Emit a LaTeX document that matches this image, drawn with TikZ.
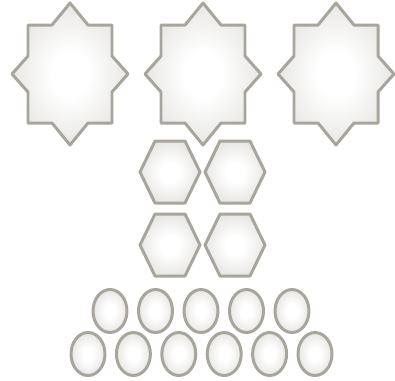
\documentclass[tikz,border=0pt]{standalone}
\usepackage{tikz}
\usetikzlibrary{shapes.geometric}
\definecolor{tileedge}{RGB}{168,165,156}
\definecolor{tilefill}{RGB}{198,196,190}
\pgfdeclareradialshading{tileshade}{\pgfpointorigin}{color(0bp)=(white); color(8bp)=(white); color(50bp)=(tilefill)}
\tikzset{
    tile/.style={draw=tileedge, line width=1.7pt, line join=round,
                 shade, shading=tileshade}
}

\begin{document}
\begin{tikzpicture}[
    x=0.02cm,
    y=-0.02cm
]
\useasboundingbox (0,0) rectangle (395,380);

% === STARS (top row) ===
\foreach \cx in {70,203,336} {
    \begin{scope}[shift={(\cx,74)}]
    \path[tile] (0,-71) -- (18,-49) -- (42,-49) -- (42,-18) -- (58,0)
        -- (42,18) -- (42,49) -- (18,49) -- (0,71) -- (-18,49)
        -- (-42,49) -- (-42,18) -- (-58,0) -- (-42,-18) -- (-42,-49)
        -- (-18,-49) -- cycle;
    \end{scope}
}

% === HEXAGONS (2 x 2) ===
\foreach \cx/\cy in {170/172, 235/172, 170/245, 235/245} {
    \begin{scope}[shift={(\cx,\cy)}]
    \path[tile] (-30,0) -- (-15,-31) -- (15,-31) -- (30,0)
        -- (15,31) -- (-15,31) -- cycle;
    \end{scope}
}

% === OVALS (5 over 6) ===
\foreach \cx in {110,155.5,201,246.5,292}
    \path[tile] (\cx,311) ellipse [x radius=0.34cm, y radius=0.43cm];
\foreach \cx in {88,133.4,178.8,224.2,269.6,315}
    \path[tile] (\cx,354) ellipse [x radius=0.34cm, y radius=0.43cm];

\end{tikzpicture}
\end{document}
